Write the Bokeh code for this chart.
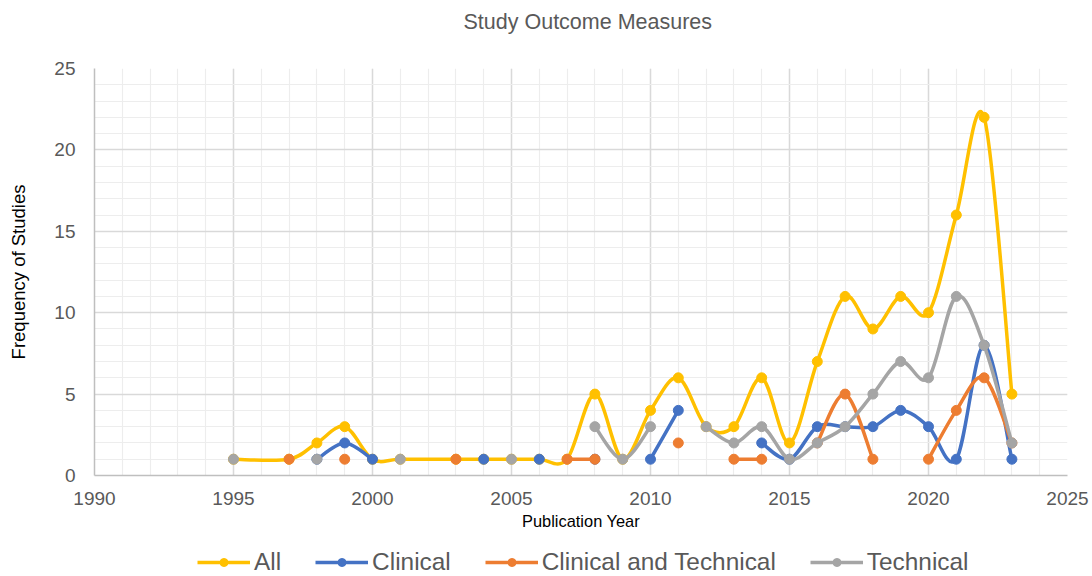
import math
from bokeh.plotting import figure
from bokeh.layouts import column
from bokeh.models import ColumnDataSource, FixedTicker, Legend, LegendItem, Range1d, Title
from bokeh.embed import file_html
from bokeh.resources import INLINE

# ---- data ----
years = [1995, 1997, 1998, 1999, 2000, 2001, 2003, 2004, 2005, 2006, 2007, 2008, 2009,
         2010, 2011, 2012, 2013, 2014, 2015, 2016, 2017, 2018, 2019, 2020, 2021, 2022, 2023]
all_counts = [1, 1, 2, 3, 1, 1, 1, 1, 1, 1, 1, 5, 1,
              4, 6, 3, 3, 6, 2, 7, 11, 9, 11, 10, 16, 22, 5]
clinical = [None, None, 1, 2, 1, None, None, 1, None, 1, None, 1, None,
            1, 4, None, None, 2, 1, 3, 3, 3, 4, 3, 1, 8, 1]
clin_tech = [None, 1, None, 1, None, None, 1, None, None, None, 1, 1, None,
             None, 2, None, 1, 1, None, 2, 5, 1, None, 1, 4, 6, 2]
technical = [1, None, 1, None, None, 1, None, None, 1, None, None, 3, 1,
             3, None, 3, 2, 3, 1, 2, 3, 5, 7, 6, 11, 8, 2]

series_names = ["All", "Clinical", "Clinical and Technical", "Technical"]
series_values = [all_counts, clinical, clin_tech, technical]
series_colors = ["#FFC000", "#4472C4", "#ED7D31", "#A5A5A5"]

x_major = list(range(1990, 2026, 5))
x_minor = list(range(1990, 2026, 1))
y_major = list(range(0, 26, 5))
y_minor = list(range(0, 26, 1))

FONT = "Liberation Sans"


def segments(xs, ys):
    segs, cur = [], []
    for x, y in zip(xs, ys):
        if y is None:
            if cur:
                segs.append(cur)
            cur = []
        else:
            cur.append((x, y))
    if cur:
        segs.append(cur)
    return segs


def smooth_source(xs, ys):
    """Catmull-Rom style bezier control points (Excel 'smoothed line')."""
    d = dict(x0=[], y0=[], x1=[], y1=[], cx0=[], cy0=[], cx1=[], cy1=[])
    for seg in segments(xs, ys):
        n = len(seg)
        for i in range(n - 1):
            p0 = seg[i - 1] if i > 0 else seg[i]
            p1 = seg[i]
            p2 = seg[i + 1]
            p3 = seg[i + 2] if i + 2 < n else seg[i + 1]
            d["x0"].append(p1[0]); d["y0"].append(p1[1])
            d["x1"].append(p2[0]); d["y1"].append(p2[1])
            d["cx0"].append(p1[0] + (p2[0] - p0[0]) / 6.0)
            d["cy0"].append(p1[1] + (p2[1] - p0[1]) / 6.0)
            d["cx1"].append(p2[0] - (p3[0] - p1[0]) / 6.0)
            d["cy1"].append(p2[1] - (p3[1] - p1[1]) / 6.0)
    return ColumnDataSource(d)


# ---------------- main chart ----------------
p = figure(width=1092, height=536,
           x_range=Range1d(1990, 2025), y_range=Range1d(0, 25),
           output_backend="svg", toolbar_location=None,
           min_border_left=94, min_border_right=25,
           min_border_top=68, min_border_bottom=61)

p.outline_line_color = None
p.background_fill_color = "white"
p.border_fill_color = "white"

# title (outermost) + a spacer between it and the frame
p.title.text = "Study Outcome Measures"
p.title.align = "left"
p.title.offset = 369
p.title.standoff = 0
p.title.text_font = FONT
p.title.text_font_size = "21.5px"
p.title.text_font_style = "normal"
p.title.text_color = "#595959"
p.add_layout(Title(text=" ", text_font=FONT, text_font_size="12px", standoff=19), "above")

# axes / grid
for ax, major, minor in ((p.xaxis, x_major, x_minor), (p.yaxis, y_major, y_minor)):
    ax.ticker = FixedTicker(ticks=major, minor_ticks=minor)
    ax.major_tick_line_color = None
    ax.minor_tick_line_color = None
    ax.axis_line_color = "#BFBFBF"
    ax.axis_line_width = 1.5
    ax.major_label_text_font = FONT
    ax.major_label_text_font_size = "19px"
    ax.major_label_text_color = "#595959"
    ax.axis_label_text_font = FONT
    ax.axis_label_text_font_style = "normal"
    ax.axis_label_text_color = "#000000"

p.xaxis.axis_label = "Publication Year"
p.xaxis.axis_label_text_font_size = "16.4px"
p.xaxis.major_label_standoff = 10
p.xaxis.axis_label_standoff = 4
p.yaxis.axis_label = "Frequency of Studies"
p.yaxis.axis_label_text_font_size = "18.5px"
p.yaxis.major_label_standoff = 13
p.yaxis.axis_label_standoff = 22

p.xgrid.ticker = FixedTicker(ticks=x_major, minor_ticks=x_minor)
p.ygrid.ticker = FixedTicker(ticks=y_major, minor_ticks=y_minor)
for g in (p.xgrid, p.ygrid):
    g.grid_line_color = "#D9D9D9"
    g.grid_line_width = 1.5
    g.minor_grid_line_color = "#EDEDED"
    g.minor_grid_line_width = 1.2

for name, vals, color in zip(series_names, series_values, series_colors):
    src = smooth_source(years, vals)
    p.bezier(x0="x0", y0="y0", x1="x1", y1="y1", cx0="cx0", cy0="cy0",
             cx1="cx1", cy1="cy1", source=src, line_color=color,
             line_width=3.5, line_cap="round")
    px = [x for x, y in zip(years, vals) if y is not None]
    py = [y for y in vals if y is not None]
    p.scatter(px, py, marker="circle", size=10, fill_color=color, line_color=color)

# ---------------- legend strip ----------------
lf = figure(width=1092, height=40, x_range=Range1d(0, 1), y_range=Range1d(0, 1),
            output_backend="svg", toolbar_location=None, title=None,
            x_axis_location=None, y_axis_location=None,
            min_border_left=0, min_border_right=0, min_border_top=0, min_border_bottom=0)
lf.outline_line_color = None
lf.xgrid.visible = False
lf.ygrid.visible = False
lf.border_fill_color = "white"
lf.background_fill_color = "white"

nan = [math.nan]
items = []
for name, color in zip(series_names, series_colors):
    lr = lf.line(x=nan, y=nan, line_color=color, line_width=3.5)
    sr = lf.scatter(x=nan, y=nan, marker="circle", size=10, fill_color=color, line_color=color)
    items.append(LegendItem(label=name, renderers=[lr, sr]))

legend = Legend(items=items, orientation="horizontal", location=(103, 0),
                padding=0, margin=0, spacing=34, glyph_width=53, glyph_height=20,
                label_standoff=4, label_text_font=FONT, label_text_font_size="24.4px",
                label_text_color="#595959", border_line_color=None,
                background_fill_alpha=0)
lf.add_layout(legend)

layout = column(p, lf, spacing=0)
open("out.html", "w").write(file_html(layout, INLINE))
